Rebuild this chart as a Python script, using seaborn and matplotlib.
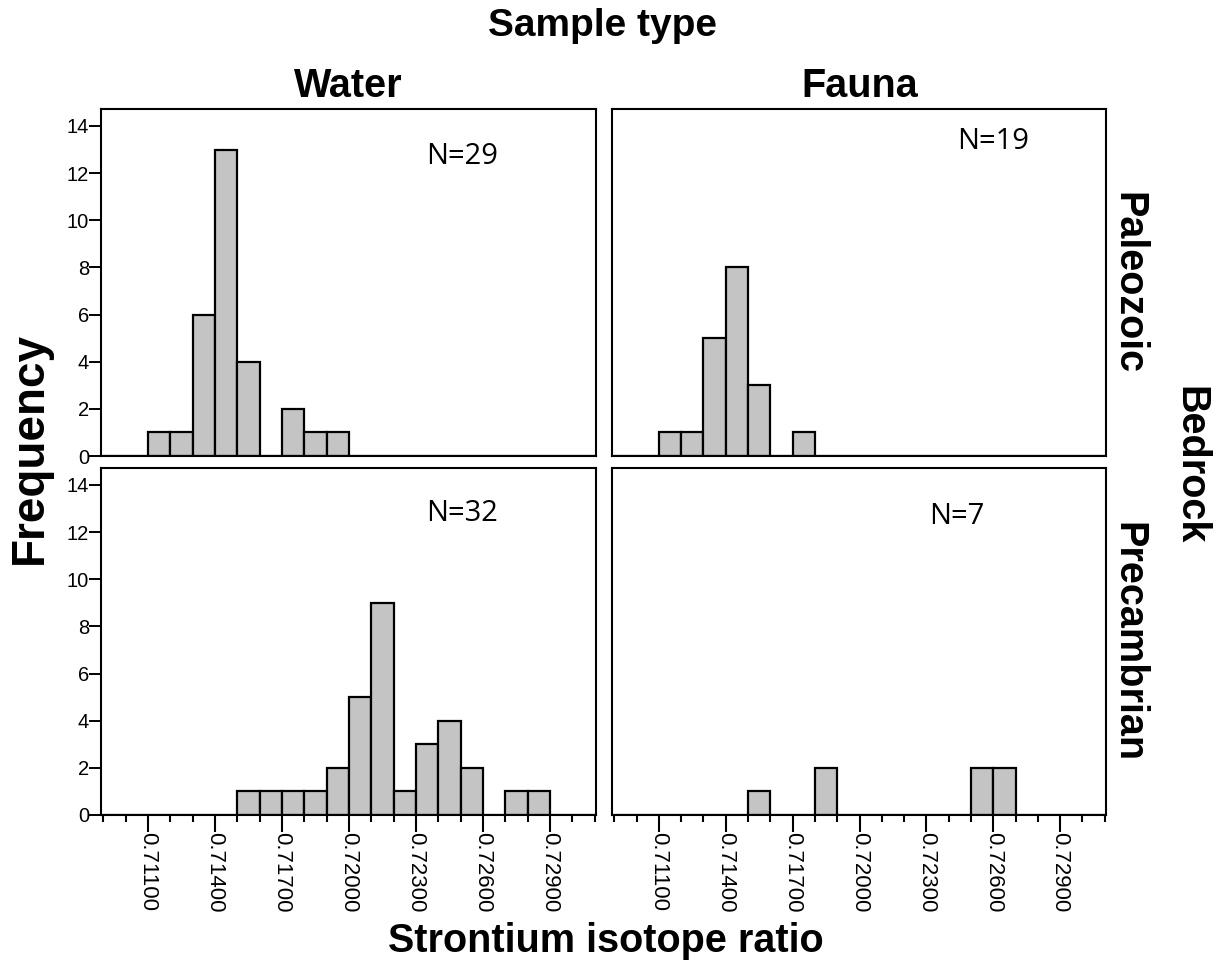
import numpy as np
import pandas as pd
import matplotlib
matplotlib.use("Agg")
import matplotlib.pyplot as plt
import seaborn as sns

# bins of 0.001 from 0.709 to 0.731
bin_edges = np.round(np.arange(0.709, 0.7315, 0.001), 3)
bin_left = bin_edges[:-1]

# counts per bin (index 0 = 0.709-0.710)
water_paleozoic = [0, 0, 1, 1, 6, 13, 4, 0, 2, 1, 1, 0, 0, 0, 0, 0, 0, 0, 0, 0, 0, 0]
water_precambrian = [0, 0, 0, 0, 0, 0, 1, 1, 1, 1, 2, 5, 9, 1, 3, 4, 2, 0, 1, 1, 0, 0]
fauna_paleozoic = [0, 0, 1, 1, 5, 8, 3, 0, 1, 0, 0, 0, 0, 0, 0, 0, 0, 0, 0, 0, 0, 0]
fauna_precambrian = [0, 0, 0, 0, 0, 0, 1, 0, 0, 2, 0, 0, 0, 0, 0, 0, 2, 2, 0, 0, 0, 0]

sample_types = ["Water", "Fauna"]
bedrocks = ["Paleozoic", "Precambrian"]
n_labels = ["N=29", "N=19", "N=32", "N=7"]

major_ticks = [0.711, 0.714, 0.717, 0.720, 0.723, 0.726, 0.729]
tick_labels = ["0.71100", "0.71400", "0.71700", "0.72000", "0.72300", "0.72600", "0.72900"]
y_ticks = [0, 2, 4, 6, 8, 10, 12, 14]

sns.set_style("ticks")
plt.rcParams['font.family'] = ['Liberation Sans', 'DejaVu Sans']
plt.rcParams['text.color'] = 'black'
plt.rcParams['xtick.color'] = 'black'
plt.rcParams['ytick.color'] = 'black'

W, H = 1226, 964
fig = plt.figure(figsize=(W / 100, H / 100), dpi=100)

def px_axes(x0, y0, x1, y1):
    return fig.add_axes([x0 / W, (H - y1) / H, (x1 - x0) / W, (y1 - y0) / H])

cols = [(101, 596), (612, 1106)]
rows = [(109, 456), (468, 815)]
panel_counts = [[water_paleozoic, fauna_paleozoic], [water_precambrian, fauna_precambrian]]
n_pos = [[(0.72506, 12.72), (0.72600, 13.35)], [(0.72506, 12.78), (0.72437, 12.65)]]

for r in range(2):
    for c in range(2):
        ax = px_axes(cols[c][0], rows[r][0], cols[c][1], rows[r][1])
        df = pd.DataFrame({"x": bin_left + 0.0005, "count": panel_counts[r][c]})
        df = df[df["count"] > 0]
        sns.histplot(data=df, x="x", weights="count", binwidth=0.001, binrange=(0.709, 0.731),
                     ax=ax, color="#c3c4c3", alpha=1, edgecolor="black", linewidth=1.6)
        ax.set_xlim(0.708895, 0.73106)
        ax.set_ylim(0, 14.72)
        ax.set_xlabel("")
        ax.set_ylabel("")
        for s in ax.spines.values():
            s.set_visible(True)
            s.set_linewidth(1.5)
            s.set_color("black")
        ax.text(n_pos[r][c][0], n_pos[r][c][1], n_labels[r * 2 + c], ha="center", va="center",
                fontsize=21, family=["Open Sans", "DejaVu Sans"])
        if c == 0:
            ax.set_yticks(y_ticks)
            ax.tick_params(axis="y", length=8.5, width=1.4, labelsize=14.5, pad=0)
        else:
            ax.set_yticks([])
        if r == 1:
            ax.set_xticks(major_ticks)
            ax.set_xticklabels(tick_labels, rotation=270, fontsize=16)
            ax.set_xticks(bin_edges, minor=True)
            ax.tick_params(axis="x", which="major", length=12.5, width=1.5, pad=0)
            ax.tick_params(axis="x", which="minor", length=5, width=1.5)
        else:
            ax.set_xticks([])

fig.text(603 / W, 1 - 26 / H, "Sample type", ha="center", va="center", fontsize=28, fontweight="bold")
fig.text(348 / W, 1 - 86 / H, sample_types[0], ha="center", va="center", fontsize=28.5, fontweight="bold")
fig.text(860 / W, 1 - 86 / H, sample_types[1], ha="center", va="center", fontsize=28.5, fontweight="bold")
fig.text(1128 / W, 1 - 283 / H, bedrocks[0], ha="center", va="center", fontsize=28.5, fontweight="bold", rotation=270)
fig.text(1128 / W, 1 - 642 / H, bedrocks[1], ha="center", va="center", fontsize=28.5, fontweight="bold", rotation=270)
fig.text(1190 / W, 1 - 465 / H, "Bedrock", ha="center", va="center", fontsize=28.5, fontweight="bold", rotation=270)
fig.text(30 / W, 1 - 448 / H, "Frequency", ha="center", va="center", fontsize=33, fontweight="bold", rotation=90)
fig.text(606 / W, 1 - 941 / H, "Strontium isotope ratio", ha="center", va="center", fontsize=28.5, fontweight="bold")

fig.savefig("out.png", dpi=100)
